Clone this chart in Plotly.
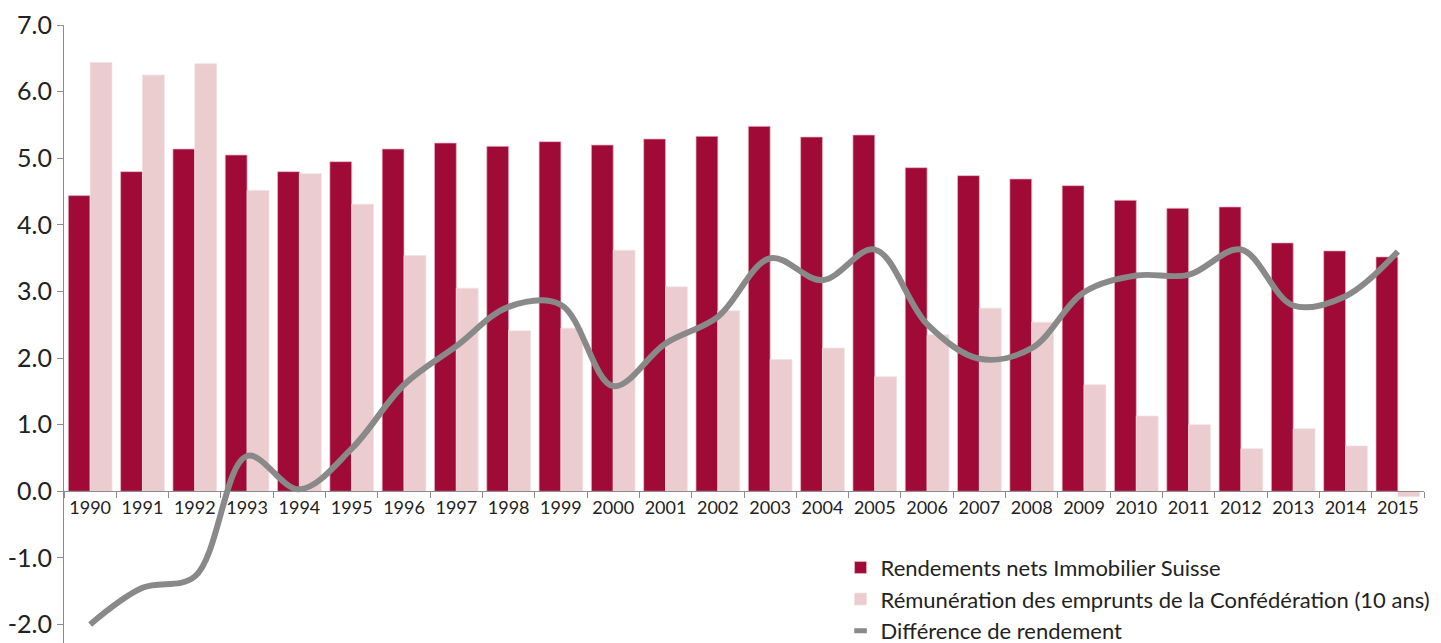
import plotly.graph_objects as go

years = [str(y) for y in range(1990, 2016)]

rendements_immobilier = [4.44, 4.80, 5.14, 5.05, 4.80, 4.95, 5.14, 5.23, 5.18, 5.25,
                         5.20, 5.29, 5.33, 5.48, 5.32, 5.35, 4.86, 4.74, 4.69, 4.59,
                         4.37, 4.25, 4.27, 3.73, 3.61, 3.52]
emprunts_confederation = [6.44, 6.25, 6.42, 4.52, 4.77, 4.31, 3.54, 3.05, 2.41, 2.45,
                          3.62, 3.07, 2.71, 1.98, 2.15, 1.72, 2.35, 2.75, 2.54, 1.60,
                          1.13, 1.00, 0.64, 0.94, 0.68, -0.08]
difference_rendement = [-2.00, -1.45, -1.28, 0.53, 0.03, 0.64, 1.60, 2.18, 2.77, 2.80,
                        1.58, 2.22, 2.62, 3.50, 3.17, 3.63, 2.51, 1.99, 2.15, 2.99,
                        3.24, 3.25, 3.63, 2.79, 2.93, 3.60]

y_ticks = [-2, -1, 0, 1, 2, 3, 4, 5, 6, 7]
y_tick_text = [f"{v:.1f}" for v in y_ticks]

DARK = "#A00A37"
LIGHT = "#EBCDCF"
GREY = "#898989"
FONT = "Lato"

y_min, y_max = -2.278, 7.002

fig = go.Figure()

fig.add_trace(go.Bar(
    x=years, y=rendements_immobilier,
    name="Rendements nets Immobilier Suisse",
    marker=dict(color=DARK, line=dict(color="#E8B9C4", width=0.7)),
    legendgroup="a",
))
fig.add_trace(go.Bar(
    x=years, y=emprunts_confederation,
    name="Rémunération des emprunts de la Confédération (10 ans)",
    marker=dict(color=LIGHT, line=dict(color="#F3E0E1", width=0.7)),
    legendgroup="b",
))
fig.add_trace(go.Scatter(
    x=years, y=difference_rendement,
    mode="lines",
    line=dict(color=GREY, width=6, shape="spline", smoothing=1.0),
    showlegend=False,
    hoverinfo="skip",
))
# short grey dash used as the legend key for the spread line
fig.add_trace(go.Scatter(
    x=[None], y=[None],
    mode="markers",
    name="Différence de rendement",
    marker=dict(symbol="line-ew-open", size=9, color=GREY,
                line=dict(color=GREY, width=5)),
    legendgroup="c",
))

zero_pos = (0 - y_min) / (y_max - y_min)

fig.update_layout(
    width=1441, height=643,
    margin=dict(l=64, r=17, t=25, b=0, autoexpand=False),
    plot_bgcolor="white",
    paper_bgcolor="white",
    barmode="group",
    bargap=0.165,
    bargroupgap=0.0,
    font=dict(family=FONT, color="#222222"),
    showlegend=True,
    legend=dict(
        x=0.571, y=-0.014, xanchor="left", yanchor="bottom",
        bgcolor="rgba(0,0,0,0)",
        font=dict(family=FONT, size=22, color="#222222"),
        traceorder="grouped",
        tracegroupgap=0,
        itemclick=False,
    ),
    xaxis=dict(
        type="category",
        anchor="free",
        position=zero_pos,
        automargin=False,
        showline=True, linecolor="#8c8c8c", linewidth=1,
        ticks="outside", tickson="boundaries", ticklen=6,
        tickcolor="#8c8c8c", tickwidth=1,
        tickfont=dict(family=FONT, size=18, color="#222222"),
        showgrid=False, zeroline=False,
    ),
    yaxis=dict(
        range=[y_min, y_max],
        automargin=False,
        tickvals=y_ticks, ticktext=y_tick_text,
        showline=True, linecolor="#8c8c8c", linewidth=1,
        ticks="outside", ticklen=6, tickcolor="#8c8c8c", tickwidth=1,
        tickfont=dict(family=FONT, size=25, color="#222222"),
        showgrid=False, zeroline=False,
    ),
)

fig.write_html("out.html")
